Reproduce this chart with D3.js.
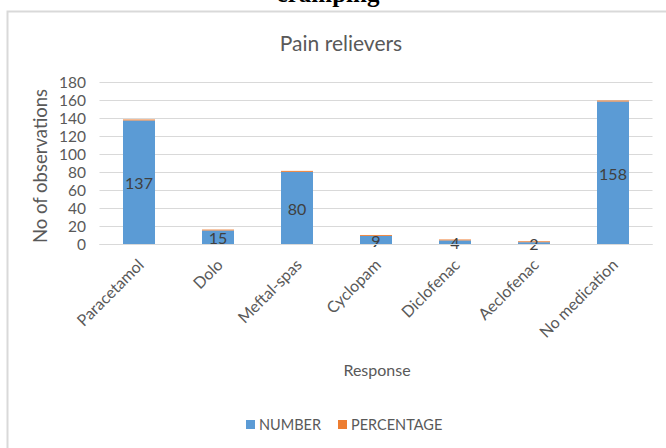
<!DOCTYPE html>
<html><head><meta charset="utf-8">
<script src="https://cdn.jsdelivr.net/npm/d3@7"></script>
<style>body{margin:0;background:#fff}svg{display:block}</style>
</head><body>
<script>
const categories = ["Paracetamol","Dolo","Meftal-spas","Cyclopam","Diclofenac","Aeclofenac","No medication"];
const numberValues = [137,15,80,9,4,2,158];
const percentageValues = [1.1,1.0,1.1,1.0,1.0,1.0,1.1];
const yTicks = [0,20,40,60,80,100,120,140,160,180];
const seriesNames = ["NUMBER","PERCENTAGE"];
const colors = ["#5b9bd5","#ed7d31"];

const W=666,H=448;
const svg=d3.select("body").append("svg").attr("width",W).attr("height",H);
const font="Lato, 'Open Sans', sans-serif";
const grey="#595959";

// outer border
svg.append("rect").attr("x",7.5).attr("y",11.5).attr("width",680).attr("height",460)
  .attr("fill","#fff").attr("stroke","#d9d9d9").attr("stroke-width",2);

// cut-off header text (cropped at top in the reference)
svg.append("text").attr("x",328).attr("y",2).attr("text-anchor","middle")
  .attr("font-family","'Liberation Serif', serif").attr("font-weight","bold").attr("font-size",25)
  .attr("fill","#000").text("cramping");

const x=d3.scaleBand().domain(categories).range([99.5,652.5]).paddingInner(0.595).paddingOuter(0.2975);
const y=d3.scaleLinear().domain([0,180]).range([244,81.7]);

// gridlines
svg.append("g").selectAll("line").data(yTicks).join("line")
  .attr("x1",99.5).attr("x2",652.5).attr("y1",d=>Math.round(y(d))+0.5).attr("y2",d=>Math.round(y(d))+0.5)
  .attr("stroke","#d9d9d9").attr("stroke-width",1);

// y axis labels
const yAxis=d3.axisLeft(y).tickValues(yTicks).tickSize(0).tickPadding(0);
const ya=svg.append("g").attr("transform","translate(86,0)").call(yAxis);
ya.select(".domain").remove();
ya.selectAll("text").attr("font-family",font).attr("font-size",15.5).attr("fill",grey).attr("dy","0.35em");

// stacked data
const rows=categories.map((c,i)=>({cat:c,NUMBER:numberValues[i],PERCENTAGE:percentageValues[i]}));
const stack=d3.stack().keys(seriesNames)(rows);
svg.append("g").selectAll("g").data(stack).join("g").attr("fill",(d,i)=>colors[i])
  .selectAll("rect").data(d=>d).join("rect")
  .attr("x",d=>x(d.data.cat)).attr("width",x.bandwidth())
  .attr("y",d=>y(d[1])).attr("height",d=>y(d[0])-y(d[1]));

// data labels
svg.append("g").selectAll("text").data(rows).join("text")
  .attr("x",d=>x(d.cat)+x.bandwidth()/2)
  .attr("y",d=>y(d.NUMBER/2)+1.5)
  .attr("dy","0.35em").attr("text-anchor","middle")
  .attr("font-family",font).attr("font-size",16).attr("fill","#404040")
  .text(d=>d.NUMBER);

// x axis line
svg.append("line").attr("x1",99.5).attr("x2",652.5).attr("y1",244.5).attr("y2",244.5)
  .attr("stroke","#d9d9d9");

// x labels
const xAxis=d3.axisBottom(x).tickSize(0).tickPadding(0);
const xa=svg.append("g").attr("transform","translate(0,250)").call(xAxis);
xa.select(".domain").remove();
xa.selectAll("text").attr("font-family",font).attr("font-size",16).attr("fill",grey)
  .attr("text-anchor","end").attr("dy","0.35em")
  .attr("transform","translate(2,12) rotate(-45)");

// titles
svg.append("text").attr("x",341).attr("y",51).attr("text-anchor","middle")
  .attr("font-family",font).attr("font-size",21).attr("fill",grey).text("Pain relievers");
svg.append("text").attr("transform","translate(47,166) rotate(-90)").attr("text-anchor","middle")
  .attr("font-family",font).attr("font-size",18.5).attr("fill",grey).text("No of observations");
svg.append("text").attr("x",377).attr("y",376).attr("text-anchor","middle")
  .attr("font-family",font).attr("font-size",16).attr("fill",grey).text("Response");

// legend
const leg=svg.append("g");
const legX=[246,338];
seriesNames.forEach((s,i)=>{
  leg.append("rect").attr("x",legX[i]).attr("y",420).attr("width",9).attr("height",9).attr("fill",colors[i]);
  leg.append("text").attr("x",legX[i]+13).attr("y",429.5).attr("font-family",font).attr("font-size",14.5)
    .attr("fill",grey).text(s);
});
</script>
</body></html>
